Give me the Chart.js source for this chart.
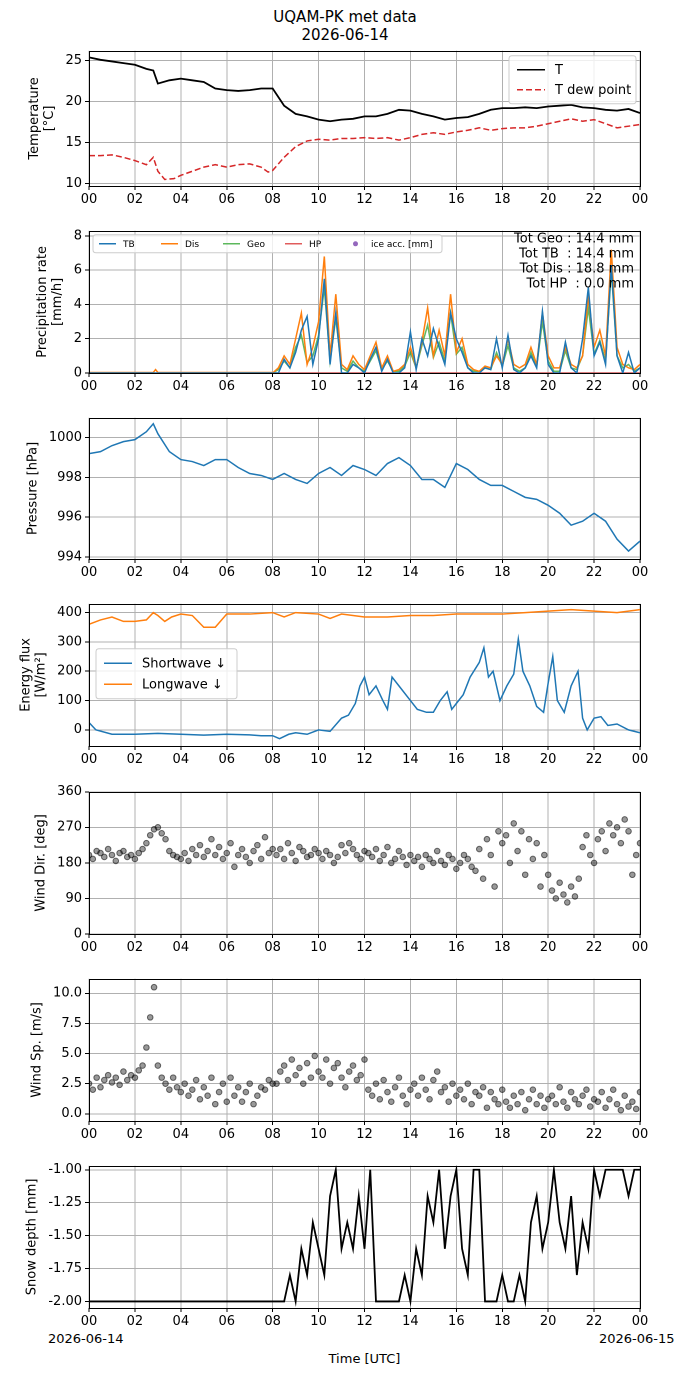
<!DOCTYPE html>
<html><head><meta charset="utf-8">
<script src="https://cdn.jsdelivr.net/npm/chart.js@4"></script>
<style>
body{margin:0;width:690px;height:1377px;background:#fff;position:relative;font-family:"DejaVu Sans",sans-serif;overflow:hidden}
canvas{position:absolute;left:0}
.t{position:absolute;font-size:13px;color:#000;white-space:nowrap}
</style></head><body>
<div class="t" style="left:0;width:690px;text-align:center;top:8px;font-size:15px;line-height:18px">UQAM-PK met data<br>2026-06-14</div>
<div class="t" style="left:48px;top:1331px">2026-06-14</div>
<div class="t" style="left:599px;top:1331px">2026-06-15</div>
<div class="t" style="left:0;width:729px;text-align:center;top:1351px">Time [UTC]</div>
<canvas id="c1"></canvas><canvas id="c2"></canvas><canvas id="c3"></canvas><canvas id="c4"></canvas><canvas id="c5"></canvas><canvas id="c6"></canvas><canvas id="c7"></canvas>
<script>
// ---------- DATA ----------
const tHalf = [0,0.5,1,1.5,2,2.5,2.8,3,3.5,4,4.5,5,5.5,6,6.5,7,7.5,8,8.5,9,9.5,10,10.5,11,11.5,12,12.5,13,13.5,14,14.5,15,15.5,16,16.5,17,17.5,18,18.5,19,19.5,20,20.5,21,21.5,22,22.5,23,23.5,24];
const temp = [25.4,25.1,24.9,24.7,24.5,24.0,23.8,22.2,22.6,22.8,22.6,22.4,21.6,21.4,21.3,21.4,21.6,21.6,19.5,18.5,18.2,17.8,17.6,17.8,17.9,18.2,18.2,18.5,19.0,18.9,18.5,18.2,17.8,18.0,18.1,18.5,19.0,19.2,19.2,19.3,19.2,19.4,19.5,19.6,19.3,19.2,19.0,18.9,19.1,18.6];
const tDew = [0,0.5,1,1.5,2,2.5,2.8,3,3.3,3.7,4,4.5,5,5.5,6,6.5,7,7.5,7.8,8,8.5,9,9.5,10,10.5,11,11.5,12,12.5,13,13.5,14,14.5,15,15.5,16,16.5,17,17.5,18,18.5,19,19.5,20,20.5,21,21.5,22,22.5,23,23.5,24];
const dew = [13.4,13.4,13.5,13.2,12.8,12.3,13.2,11.5,10.5,10.6,11.0,11.5,12.0,12.3,12.0,12.3,12.4,12.0,11.4,11.6,13.2,14.5,15.2,15.4,15.3,15.5,15.5,15.6,15.5,15.6,15.3,15.6,16.0,16.2,16.0,16.3,16.5,16.8,16.5,16.7,16.8,16.8,17.0,17.3,17.6,17.9,17.6,17.8,17.3,16.8,17.0,17.2];
const pres = [999.2,999.3,999.6,999.8,999.9,1000.3,1000.7,1000.2,999.3,998.9,998.8,998.6,998.9,998.9,998.5,998.2,998.1,997.9,998.2,997.9,997.7,998.2,998.5,998.1,998.6,998.4,998.1,998.7,999.0,998.6,997.9,997.9,997.5,998.7,998.4,997.9,997.6,997.6,997.3,997.0,996.9,996.6,996.2,995.6,995.8,996.2,995.8,994.9,994.3,994.8];
const tLW = [0,0.5,1,1.5,2,2.5,2.8,3,3.3,3.6,4,4.5,5,5.5,6,7,8,8.5,9,10,10.5,11,12,13,14,15,16,17,18,19,20,21,22,23,24];
const lw = [360,375,385,370,370,375,400,390,370,385,395,390,350,350,395,395,400,385,400,395,380,395,385,385,390,390,395,395,395,400,405,410,405,400,410];
const tSW = [0,0.3,1,2,3,4,5,6,7,7.5,8,8.3,8.7,9,9.5,10,10.5,11,11.3,11.6,11.8,12,12.2,12.5,12.8,13,13.2,13.5,14,14.3,14.7,15,15.3,15.6,15.8,16,16.3,16.6,17,17.2,17.4,17.6,17.9,18.2,18.5,18.7,18.9,19.2,19.5,19.8,20,20.2,20.4,20.7,21,21.3,21.5,21.7,22,22.3,22.6,23,23.5,24];
const sw = [25,0,-15,-15,-12,-15,-18,-15,-17,-20,-20,-30,-15,-10,-15,0,-5,40,50,90,150,180,120,150,100,70,180,150,100,70,60,60,100,130,70,90,120,180,230,280,180,200,100,150,190,310,200,150,80,60,160,250,100,60,150,200,40,0,40,45,15,20,0,-10];
// precipitation: 0.25 h steps from 8.0 to 24.0
const prStart = 8.0, prStep = 0.25;
const precDis = [0,0.3,1.0,0.5,2.0,3.5,0.5,1.5,3.0,6.8,1.0,4.6,0.5,0.2,1.0,0.5,0.2,1.0,1.8,0.3,1.0,0.1,0.2,0.5,1.5,0.3,1.8,3.8,1.0,2.5,1.0,4.6,1.2,2.0,0.5,0.2,0.1,0.4,0.3,1.0,0.5,2.0,0.5,0.3,0.5,1.5,0.5,3.5,1.0,0.3,0.3,1.5,0.5,0.3,1.0,4.5,1.5,2.5,1.0,7.2,1.5,0.5,0.3,0.2,0.5];
const precTB = [0,0,0.8,0.3,1.2,2.5,3.3,0.5,2.0,5.5,0.5,3.5,0,0,0.5,0.3,0,0.8,1.5,0.1,0.8,0,0,0.3,2.4,0.2,2.0,1.0,2.6,1.5,0.5,3.5,2.0,1.2,0.3,0,0,0.3,0.2,2.0,0.3,2.2,0.2,0,0.3,1.0,0.3,3.6,0.5,0,0,1.8,0.3,0,2.0,5.0,1.0,1.8,0.5,6.3,1.0,0,1.2,0,0.3];
const precGeo = [0,0.2,0.7,0.3,1.5,2.2,0.6,1.0,2.2,5.0,0.7,3.2,0.3,0.1,0.7,0.3,0.1,0.7,1.3,0.2,0.7,0.1,0.1,0.4,1.2,0.3,1.6,2.8,0.9,1.8,0.7,3.5,1.1,1.5,0.3,0.1,0.1,0.3,0.2,1.2,0.4,1.6,0.3,0.1,0.3,1.2,0.4,3.0,0.7,0.1,0.1,1.3,0.3,0.2,1.0,3.8,1.1,1.9,0.7,6.0,1.0,0.3,0.5,0.1,0.3];
const precHP = [0,0,0,0,0,0,0,0,0,0,0,0,0,0,0,0,0,0,0,0,0,0,0,0,0,0,0,0,0,0,0,0,0,0,0,0,0,0,0,0,0,0,0,0,0,0,0,0,0,0,0,0,0,0,0,0,0,0,0,0,0,0,0,0,0];
const totals = ["Tot Geo : 14.4 mm","Tot TB  : 14.4 mm","Tot Dis : 18.8 mm","Tot HP  : 0.0 mm"];
// wind: 10-minute steps 0..24 h
const windDir = [200,190,210,205,195,215,200,185,205,210,195,200,190,
205,215,230,250,265,270,255,240,210,200,195,190,
205,185,215,200,225,195,210,240,200,220,190,205,
230,170,200,215,195,180,210,225,190,245,205,215,
200,215,190,230,205,185,220,210,195,200,215,205,
190,210,200,180,195,225,205,230,215,200,190,210,
205,195,215,185,200,220,180,190,210,195,175,200,
185,195,170,200,190,180,210,185,175,200,190,165,
180,200,190,170,160,215,140,240,200,120,260,230,
250,180,280,210,260,150,240,190,230,120,200,150,
110,90,130,100,80,120,95,140,220,250,200,180,
240,260,210,280,250,270,230,290,260,150,200,230];
const windSp = [2.5,2.0,3.0,2.2,2.8,3.2,2.6,3.0,2.4,3.5,2.8,3.2,3.0,
3.6,4.0,5.5,8.0,10.5,4.0,3.0,2.5,2.0,3.0,2.2,1.8,
2.5,1.5,2.0,2.8,1.2,2.2,1.5,3.0,0.8,1.8,2.5,1.0,
3.0,1.5,2.2,1.0,1.8,2.5,0.8,1.5,2.2,2.0,2.8,2.5,
2.5,3.5,4.0,2.8,4.5,3.2,3.8,2.5,4.2,3.0,4.8,3.5,
3.0,4.5,2.5,3.8,4.2,3.0,2.2,3.5,4.0,2.8,3.2,4.5,
2.0,1.5,2.5,1.2,2.8,1.8,1.0,2.2,3.0,1.5,0.8,2.0,
2.5,1.5,3.0,2.0,1.2,2.8,3.5,1.8,2.2,1.0,2.5,1.5,
2.0,1.2,2.5,0.8,1.8,1.5,2.2,0.5,1.8,1.2,0.8,2.0,
1.0,0.5,1.5,0.8,1.8,0.3,1.2,2.0,0.8,1.5,0.5,1.2,
1.5,0.8,2.2,1.0,0.5,1.8,1.2,0.8,1.5,2.0,0.6,1.2,
1.0,1.8,0.5,1.2,2.0,0.8,0.3,1.5,0.6,1.0,0.4,1.8];
// snow depth: 0.25 h steps from 8.5 to 24 (before: -2)
const snowStart = 8.5;
const snow = [-2,-1.8,-2,-1.6,-1.8,-1.4,-1.6,-1.8,-1.2,-1.0,-1.6,-1.4,-1.6,-1.2,-1.6,-1.0,-2,-2,-2,-2,-2,-1.8,-2,-1.6,-1.8,-1.2,-1.4,-1.0,-1.6,-1.2,-1.0,-1.6,-1.8,-1.0,-1.0,-2,-2,-2,-1.8,-2,-2,-1.8,-2,-1.4,-1.2,-1.6,-1.4,-1.0,-1.4,-1.6,-1.2,-1.8,-1.4,-1.6,-1.0,-1.2,-1.0,-1.0,-1.0,-1.0,-1.2,-1.0,-1.0];
const xTicks = [0,2,4,6,8,10,12,14,16,18,20,22,24];
// ---------- HELPERS ----------
const FONT = {family:'DejaVu Sans', size:13};
Chart.defaults.font = FONT; Chart.defaults.color = '#000';
const xy = (xs, ys) => ys.map((v,i)=>({x:xs[i], y:v}));
const stepPts = (start, step, ys) => ys.map((v,i)=>({x:start+i*step, y:v}));
function makeFrame(draw, yTitle, yLabels){return {id:'frame', afterDraw(c){const a=c.chartArea,g=c.ctx;g.save();g.strokeStyle='#000';g.lineWidth=1;g.strokeRect(Math.round(a.left)+0.5,Math.round(a.top)+0.5,Math.round(a.width),Math.round(a.height));
 g.font='13px DejaVu Sans';const mw=Math.max(...yLabels.map(s=>g.measureText(s).width));
 const lines=Array.isArray(yTitle)?yTitle:[yTitle];const lastX=a.left-8-mw-15;const cy=(a.top+a.bottom)/2;
 g.fillStyle='#000';g.textAlign='center';g.textBaseline='middle';
 lines.forEach((s,i)=>{const x=lastX-(lines.length-1-i)*15;g.save();g.translate(x,cy);g.rotate(-Math.PI/2);g.fillText(s,0,0);g.restore();});
 if(draw) draw(c,g,a); g.restore();}};}
function legendBox(g, x, y, items, opt){
  const fs=opt.fs, rowH=opt.rowH, w=opt.w;
  g.fillStyle='rgba(255,255,255,0.8)'; g.strokeStyle='#ccc'; g.lineWidth=1;
  const h = opt.horiz ? rowH+6 : items.length*rowH+8;
  roundRect(g,x,y,w,h,3); g.fill(); g.stroke();
  g.font=fs+'px DejaVu Sans'; g.textBaseline='middle'; g.fillStyle='#000'; g.textAlign='left';
  items.forEach((it,i)=>{
    const cx = opt.horiz ? x+6+i*opt.colW : x+8;
    const cy = opt.horiz ? y+h/2 : y+4+rowH*(i+0.5);
    g.save();
    if(it.point){g.fillStyle=it.color;g.beginPath();g.arc(cx+opt.line/2,cy,2.5,0,7);g.fill();}
    else{g.strokeStyle=it.color;g.lineWidth=it.lw||1.5;g.setLineDash(it.dash||[]);g.beginPath();g.moveTo(cx,cy);g.lineTo(cx+opt.line,cy);g.stroke();}
    g.restore(); g.fillStyle='#000';
    g.fillText(it.label,cx+opt.line+opt.gap,cy+1);
  });
}
function roundRect(g,x,y,w,h,r){g.beginPath();g.moveTo(x+r,y);g.lineTo(x+w-r,y);g.quadraticCurveTo(x+w,y,x+w,y+r);g.lineTo(x+w,y+h-r);g.quadraticCurveTo(x+w,y+h,x+w-r,y+h);g.lineTo(x+r,y+h);g.quadraticCurveTo(x,y+h,x,y+h-r);g.lineTo(x,y+r);g.quadraticCurveTo(x,y,x+r,y);g.closePath();}
function mk(id, plotTop, plotH, datasets, y, draw){
  const cv=document.getElementById(id);
  const padT=6, off=11, xH=26, H=plotH+off+xH;
  cv.style.top=(plotTop-off)+'px';
  cv.width=690; cv.height=H;
  const fmt=y.fmt||(v=>String(v));
  new Chart(cv,{type:'line',data:{datasets},plugins:[makeFrame(draw,y.title,y.ticks.map(fmt))],options:{
    responsive:false,devicePixelRatio:2,animation:false,
    layout:{padding:{top:padT,right:50,left:0,bottom:0}},
    plugins:{legend:{display:false},tooltip:{enabled:false}},
    elements:{point:{radius:0},line:{tension:0}},
    scales:{
      x:{type:'linear',min:0,max:24,afterBuildTicks(s){s.ticks=xTicks.map(v=>({value:v}));},
         afterFit(s){s.height=xH;},
         ticks:{autoSkip:false,maxRotation:0,padding:2,callback:v=>String(v%24).padStart(2,'0')},
         grid:{color:'#b0b0b0',tickColor:'#000',tickLength:4},border:{display:false}},
      y:{min:y.min,max:y.max,afterBuildTicks(s){s.ticks=y.ticks.map(v=>({value:v}));},
         afterFit(s){s.width=89;},
         ticks:{autoSkip:false,padding:3,callback:fmt},
         grid:{color:'#b0b0b0',tickColor:'#000',tickLength:4},border:{display:false}}
    }}});
}
const line=(data,color,o)=>Object.assign({data,borderColor:color,backgroundColor:color,borderWidth:1.5,pointRadius:0},o||{});
// ---------- PANELS ----------
mk('c1',51,135,[line(xy(tHalf,temp),'#000',{borderWidth:1.8}),line(xy(tDew,dew),'#d62728',{borderDash:[6,3]})],
  {min:9.7,max:26.2,ticks:[10,15,20,25],title:['Temperature','[°C]']},
  (c,g,a)=>legendBox(g,a.right-131,a.top+5,[{label:'T',color:'#000'},{label:'T dew point',color:'#d62728',dash:[6,3]}],{fs:13,rowH:20,w:127,line:28,gap:10}));
mk('c2',231,142,[line(stepPts(prStart,prStep,precTB),'#1f77b4'),line(stepPts(prStart,prStep,precDis),'#ff7f0e'),
  line(stepPts(prStart,prStep,precGeo),'rgba(44,160,44,0.75)'),line(stepPts(prStart,prStep,precHP),'rgba(214,39,40,0.7)'),
  line([{x:0,y:0},{x:prStart,y:0}],'#1f77b4'),line([{x:0,y:0.03},{x:2.8,y:0.03},{x:2.9,y:0.2},{x:3.0,y:0.03},{x:prStart,y:0.03}],'#ff7f0e')],
  {min:0,max:8.3,ticks:[0,2,4,6,8],title:['Precipitation rate','[mm/h]']},
  (c,g,a)=>{legendBox(g,a.left+4,a.top+4,[{label:'TB',color:'#1f77b4'},{label:'Dis',color:'#ff7f0e'},{label:'Geo',color:'#5cb85c'},{label:'HP',color:'#e05c5c'},{label:'ice acc. [mm]',color:'#9467bd',point:true}],{fs:9,rowH:12,w:349,horiz:true,colW:62,line:17,gap:7});
   g.font='13px DejaVu Sans';g.fillStyle='#000';g.textAlign='right';g.textBaseline='top';totals.forEach((s,i)=>g.fillText(s,a.right-6,a.top+2+i*15));});
mk('c3',418,141,[line(xy(tHalf,pres),'#1f77b4')],
  {min:993.9,max:1001.0,ticks:[994,996,998,1000],title:'Pressure [hPa]'});
mk('c4',604,142,[line(xy(tSW,sw),'#1f77b4'),line(xy(tLW,lw),'#ff7f0e')],
  {min:-55,max:430,ticks:[0,100,200,300,400],title:['Energy flux','[W/m²]']},
  (c,g,a)=>legendBox(g,a.left+7,a.top+45,[{label:'Shortwave ↓',color:'#1f77b4'},{label:'Longwave ↓',color:'#ff7f0e'}],{fs:13,rowH:21,w:141,line:28,gap:10}));
const sc=(data)=>({data,showLine:false,pointRadius:2.8,pointBackgroundColor:'rgba(0,0,0,0.4)',pointBorderColor:'rgba(0,0,0,0.55)',pointBorderWidth:1});
mk('c5',792,142,[sc(stepPts(0,1/6,windDir))],{min:0,max:360,ticks:[0,90,180,270,360],title:'Wind Dir. [deg]'});
mk('c6',979,142,[sc(stepPts(0,1/6,windSp))],{min:-0.6,max:11.2,ticks:[0,2.5,5,7.5,10],title:'Wind Sp. [m/s]',fmt:v=>v.toFixed(1)});
mk('c7',1166,142,[line([{x:0,y:-2},...stepPts(snowStart,0.25,snow)],'#000',{borderWidth:1.8})],
  {min:-2.05,max:-0.97,ticks:[-2,-1.75,-1.5,-1.25,-1],title:'Snow depth [mm]',fmt:v=>v.toFixed(2)});
</script></body></html>
